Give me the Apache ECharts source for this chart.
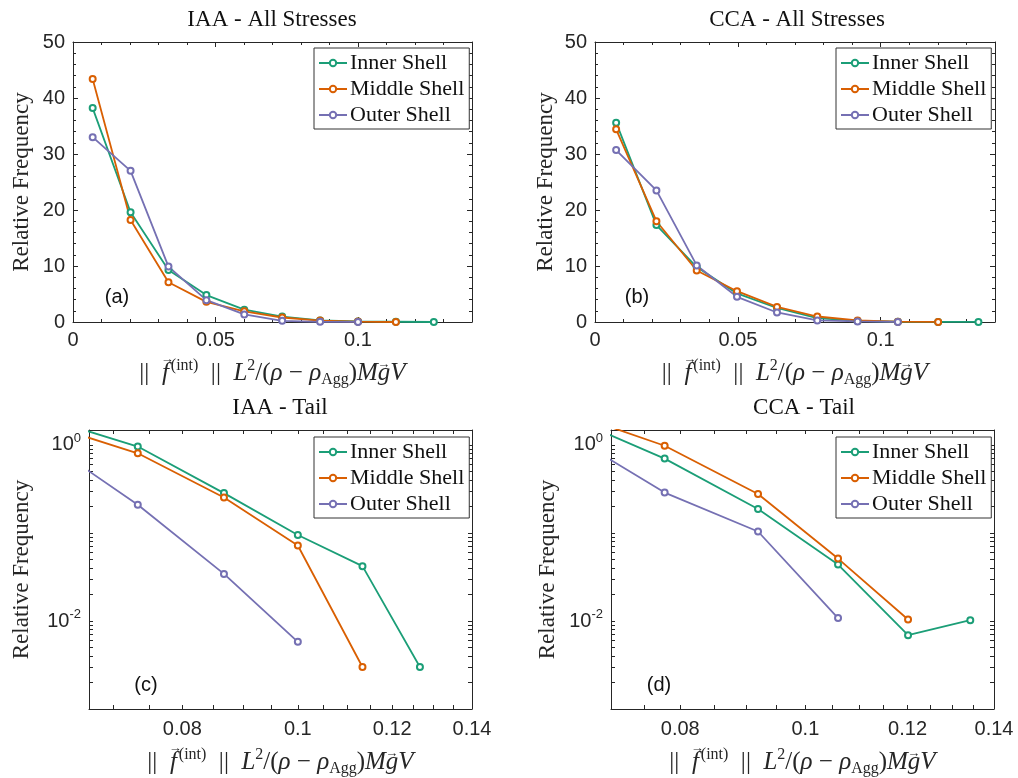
<!DOCTYPE html>
<html>
<head>
<meta charset="utf-8">
<script src="https://cdn.jsdelivr.net/npm/echarts@6/dist/echarts.min.js"></script>
<style>
html, body { margin: 0; padding: 0; background: #fff; }
#chart { width: 1018px; height: 778px; }
</style>
</head>
<body>
<div id="chart"></div>
<script>
// bin centres of the force histograms
const iaaX = [0.0069, 0.0202, 0.0335, 0.0468, 0.0601, 0.0734, 0.0867, 0.1000, 0.1133, 0.1266];
const ccaX = [0.0074, 0.0215, 0.0356, 0.0497, 0.0637, 0.0778, 0.0919, 0.1060, 0.1201, 0.1342];

// relative frequency (%) per shell
const iaaInner = [38.2, 19.6, 9.3, 4.8, 2.2, 0.96, 0.284, 0.095, 0.042, 0.003];
const iaaMiddle = [43.4, 18.2, 7.1, 3.6, 1.9, 0.805, 0.253, 0.072, 0.003];
const iaaOuter = [33.0, 27.0, 9.9, 3.9, 1.35, 0.209, 0.0343, 0.0058];
const ccaInner = [35.6, 17.3, 9.8, 5.1, 2.5, 0.70, 0.187, 0.0438, 0.0069, 0.0102];
const ccaMiddle = [34.4, 18.0, 9.2, 5.5, 2.7, 0.98, 0.277, 0.0512, 0.0104];
const ccaOuter = [30.7, 23.5, 10.1, 4.5, 1.7, 0.288, 0.104, 0.0108];

const seriesNames = ["Inner Shell", "Middle Shell", "Outer Shell"];
const panelTitles = ["IAA - All Stresses", "CCA - All Stresses", "IAA - Tail", "CCA - Tail"];
const panelTags = ["(a)", "(b)", "(c)", "(d)"];
const logXLabels = [0.08, 0.1, 0.12, 0.14];
const logYLabels = [1, 0.01];

const colors = ["#1b9e77", "#d95f02", "#7570b3"];
const axisColor = "#262626";
const serif = "Liberation Serif";
const sans = "Liberation Sans";

// tick positions for the log panels
let logXTicks = [];
for (let k = 14; k <= 28; k++) logXTicks.push(+(k * 0.005).toFixed(3));
let logYTicks = [];
for (let e = -3; e <= 0; e++) {
  for (let k = 1; k <= 9; k++) {
    let v = +(k * Math.pow(10, e)).toPrecision(3);
    if (v <= 1.48) logYTicks.push(v);
  }
}

const grids = [
  { left: 73, top: 42, width: 399, height: 280 },
  { left: 595, top: 42, width: 400, height: 280 },
  { left: 89, top: 430, width: 383, height: 279 },
  { left: 611, top: 430, width: 383, height: 279 }
];
const yNameGap = [40, 38, 56, 52];
const legendPos = [[314, 48], [836, 48], [314, 437], [836, 437]];
const titlePos = [[272, 20], [797, 20], [280, 408], [804, 408]];
const tagPos = [[117, 297], [637, 297], [146, 685], [659, 685]];

// vector arrows are drawn as small overlapping arrow tokens
const xName = "||  {i|f}{af|\u2192}{sup|(int)}  ||  {i|L}{sup|2}/({i|\u03C1} \u2212 {i|\u03C1}{sub|Agg}){i|M}{i|g}{ag|\u2192}{i|V}";
const nameStyle = {
  fontFamily: serif, fontSize: 25, color: axisColor, lineHeight: 30,
  rich: {
    i: { fontFamily: serif, fontStyle: "italic", fontSize: 25, color: axisColor, lineHeight: 30 },
    af: { fontFamily: sans, fontSize: 13, color: axisColor, lineHeight: 12, verticalAlign: "top", padding: [-5, -3, 0, -8] },
    ag: { fontFamily: sans, fontSize: 13, color: axisColor, lineHeight: 24, verticalAlign: "top", padding: [0, 0, 0, -13] },
    sup: { fontFamily: serif, fontSize: 16, color: axisColor, lineHeight: 15, verticalAlign: "top" },
    sub: { fontFamily: serif, fontSize: 16, color: axisColor, lineHeight: 15, verticalAlign: "bottom" }
  }
};

const line = { show: true, onZero: false, lineStyle: { color: axisColor, width: 1 } };
const tick = (extra) => Object.assign({ show: true, inside: true, length: 5, lineStyle: { color: axisColor } }, extra || {});
const label = { fontFamily: sans, fontSize: 20, color: axisColor };

let xAxes = [], yAxes = [];
grids.forEach((g, gi) => {
  const isLog = gi >= 2;
  if (!isLog) {
    const base = { type: "value", gridIndex: gi, min: 0, max: 0.14, interval: 0.05, splitLine: { show: false },
      axisLine: line, axisTick: tick(), minorTick: { show: true, splitNumber: 5, length: 3, lineStyle: { color: axisColor } } };
    xAxes.push(Object.assign({}, base, { position: "bottom",
      axisLabel: Object.assign({ margin: 8, showMaxLabel: false, formatter: v => String(+v.toFixed(2)) }, label),
      name: xName, nameLocation: "middle", nameGap: 36, nameTextStyle: nameStyle }));
    xAxes.push(Object.assign({}, base, { position: "top", axisLabel: { show: false } }));
    const ybase = { type: "value", gridIndex: gi, min: 0, max: 50, interval: 10, splitLine: { show: false },
      axisLine: line, axisTick: tick(), minorTick: { show: true, splitNumber: 5, length: 3, lineStyle: { color: axisColor } } };
    yAxes.push(Object.assign({}, ybase, { position: "left", axisLabel: Object.assign({ margin: 8 }, label),
      name: "Relative Frequency", nameLocation: "middle", nameGap: yNameGap[gi],
      nameTextStyle: { fontFamily: serif, fontSize: 23, color: axisColor } }));
    yAxes.push(Object.assign({}, ybase, { position: "right", axisLabel: { show: false } }));
  } else {
    const base = { type: "log", logBase: 10, gridIndex: gi, min: gi === 2 ? 0.0668 : 0.0707, max: 0.14,
      splitLine: { show: false }, axisLine: line, axisTick: tick({ customValues: logXTicks, length: 4 }), minorTick: { show: false } };
    xAxes.push(Object.assign({}, base, { position: "bottom",
      axisLabel: Object.assign({ margin: 10, customValues: logXLabels, formatter: v => String(+(+v).toFixed(2)) }, label),
      name: xName, nameLocation: "middle", nameGap: 38, nameTextStyle: nameStyle }));
    xAxes.push(Object.assign({}, base, { position: "top", axisLabel: { show: false } }));
    const ybase = { type: "log", logBase: 10, gridIndex: gi, min: 0.001, max: 1.48,
      splitLine: { show: false }, axisLine: line, axisTick: tick({ customValues: logYTicks, length: 4 }), minorTick: { show: false } };
    yAxes.push(Object.assign({}, ybase, { position: "left",
      axisLabel: { margin: 8, customValues: logYLabels,
        formatter: v => "{b|10}{s|" + Math.round(Math.log10(v)) + "}",
        rich: {
          b: { fontFamily: sans, fontSize: 20, color: axisColor, lineHeight: 26 },
          s: { fontFamily: sans, fontSize: 13, color: axisColor, lineHeight: 13, verticalAlign: "top" }
        } },
      name: "Relative Frequency", nameLocation: "middle", nameGap: yNameGap[gi],
      nameTextStyle: { fontFamily: serif, fontSize: 23, color: axisColor } }));
    yAxes.push(Object.assign({}, ybase, { position: "right", axisLabel: { show: false } }));
  }
});

function pairs(xs, ys) {
  return ys.map((v, i) => [xs[i], v]);
}

function shellSeries(ci, gi, xs, ys) {
  return {
    name: seriesNames[ci], type: "line", xAxisIndex: gi * 2, yAxisIndex: gi * 2,
    data: pairs(xs, ys), symbol: "emptyCircle", symbolSize: 6, showAllSymbol: true, clip: true,
    lineStyle: { color: colors[ci], width: 1.8 },
    itemStyle: { color: colors[ci], borderColor: colors[ci], borderWidth: 1.5 }
  };
}

const panelData = [
  [iaaX, [iaaInner, iaaMiddle, iaaOuter]],
  [ccaX, [ccaInner, ccaMiddle, ccaOuter]],
  [iaaX, [iaaInner, iaaMiddle, iaaOuter]],
  [ccaX, [ccaInner, ccaMiddle, ccaOuter]]
];
let series = [];
panelData.forEach((p, gi) => {
  p[1].forEach((ys, ci) => series.push(shellSeries(ci, gi, p[0], ys)));
});

const legends = legendPos.map(pos => ({
  left: pos[0], top: pos[1], orient: "vertical", data: seriesNames,
  itemWidth: 28, itemHeight: 8, itemGap: 4, padding: [4, 5, 3, 4],
  borderColor: "#333", borderWidth: 1, backgroundColor: "#fff",
  selectedMode: false,
  textStyle: { fontFamily: serif, fontSize: 22, color: "#111", padding: [0, 0, 0, -2] }
}));

let graphics = [];
titlePos.forEach((p, i) => graphics.push({ type: "text", x: p[0], y: p[1],
  style: { text: panelTitles[i], font: "23px " + serif, fill: "#111", align: "center", verticalAlign: "middle" } }));
tagPos.forEach((p, i) => graphics.push({ type: "text", x: p[0], y: p[1],
  style: { text: panelTags[i], font: "20px " + sans, fill: "#111", align: "center", verticalAlign: "middle" } }));

const chart = echarts.init(document.getElementById("chart"));
chart.setOption({
  animation: false,
  backgroundColor: "#fff",
  grid: grids,
  xAxis: xAxes,
  yAxis: yAxes,
  legend: legends,
  series: series,
  graphic: graphics
});
</script>
</body>
</html>
